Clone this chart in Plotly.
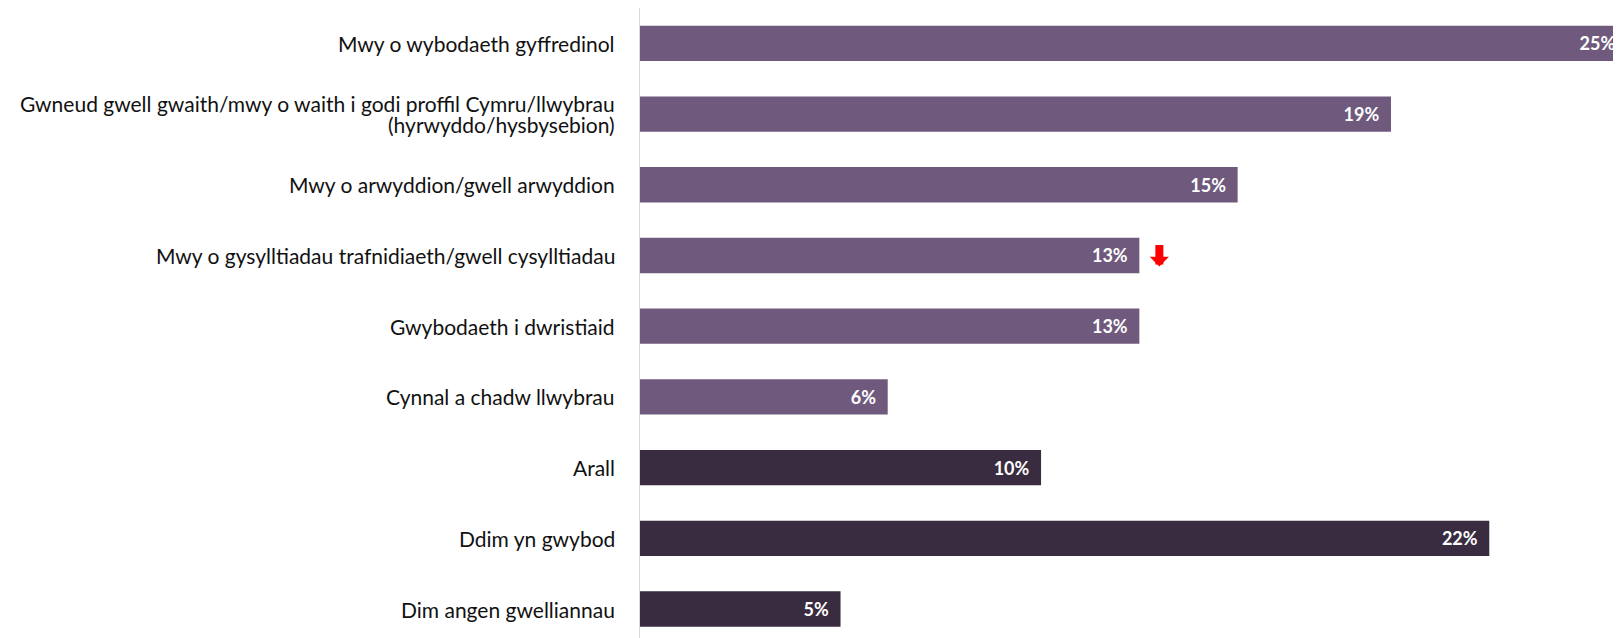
import plotly.graph_objects as go

# --- data ---
CATEGORIES = [
    "Mwy o wybodaeth gyffredinol",
    "Gwneud gwell gwaith/mwy o waith i godi proffil Cymru/llwybrau<br>(hyrwyddo/hysbysebion)",
    "Mwy o arwyddion/gwell arwyddion",
    "Mwy o gysylltiadau trafnidiaeth/gwell cysylltiadau",
    "Gwybodaeth i dwristiaid",
    "Cynnal a chadw llwybrau",
    "Arall",
    "Ddim yn gwybod",
    "Dim angen gwelliannau",
]
VALUES = [25.1, 19.1, 15.2, 12.7, 12.7, 6.3, 10.2, 21.6, 5.1]
GROUP = ["improve"] * 6 + ["other"] * 3
DOWN_FLAG = "Mwy o gysylltiadau trafnidiaeth/gwell cysylltiadau"

PURPLE = "#6f5a7d"
DARK = "#392c40"
AXIS = "#d9d9d9"
TEXT = "#111111"
FONT = "Lato, 'Open Sans', sans-serif"
LABEL_SIZE = 21
LINE_GAP = 21  # px between wrapped label lines

colors = [PURPLE if g == "improve" else DARK for g in GROUP]

fig = go.Figure(go.Bar(
    x=VALUES, y=CATEGORIES, orientation="h",
    width=0.5,
    marker=dict(color=colors, line=dict(width=0)),
    # nbsp padding keeps the value off the bar end, like the source
    text=[f"{v:.0f}%\u00a0\u00a0" for v in VALUES],
    textposition="inside", insidetextanchor="end",
    textfont=dict(color="white", size=18, family=FONT, weight="bold"),
    constraintext="none",
    hoverinfo="skip",
))

# category labels as annotations so the wrapped one keeps a tight line gap
for cat in CATEGORIES:
    lines = cat.split("<br>")
    n = len(lines)
    for i, line in enumerate(lines):
        fig.add_annotation(
            x=0, y=cat, xref="x", yref="y", text=line, showarrow=False,
            xanchor="right", yanchor="middle", xshift=-23,
            yshift=(n - 1) * LINE_GAP / 2 - i * LINE_GAP,
            font=dict(size=LABEL_SIZE, color=TEXT, family=FONT),
        )

# red "down" marker next to the transport bar
fig.add_annotation(
    x=VALUES[CATEGORIES.index(DOWN_FLAG)], y=DOWN_FLAG,
    xref="x", yref="y", text="", showarrow=True,
    ax=0, ay=-23, axref="pixel", ayref="pixel",
    xshift=20, yshift=-11,
    arrowhead=1, arrowsize=0.4, arrowwidth=8, arrowcolor="#ff0000",
)

# the page body adds an 8px offset, so the figure is 8px smaller than the window
fig.update_layout(
    width=1613, height=630,
    paper_bgcolor="white", plot_bgcolor="white",
    margin=dict(l=632, r=0, t=0, b=0),
    font=dict(family=FONT, size=LABEL_SIZE, color=TEXT),
    showlegend=False,
)
fig.update_xaxes(range=[0, 24.95], visible=False, showgrid=False, zeroline=False)
fig.update_yaxes(
    categoryorder="array", categoryarray=CATEGORIES,
    range=[8.41, -0.5],
    showline=True, linecolor=AXIS, linewidth=1,
    ticks="", showgrid=False, showticklabels=False,
)

fig.write_html("out.html")
